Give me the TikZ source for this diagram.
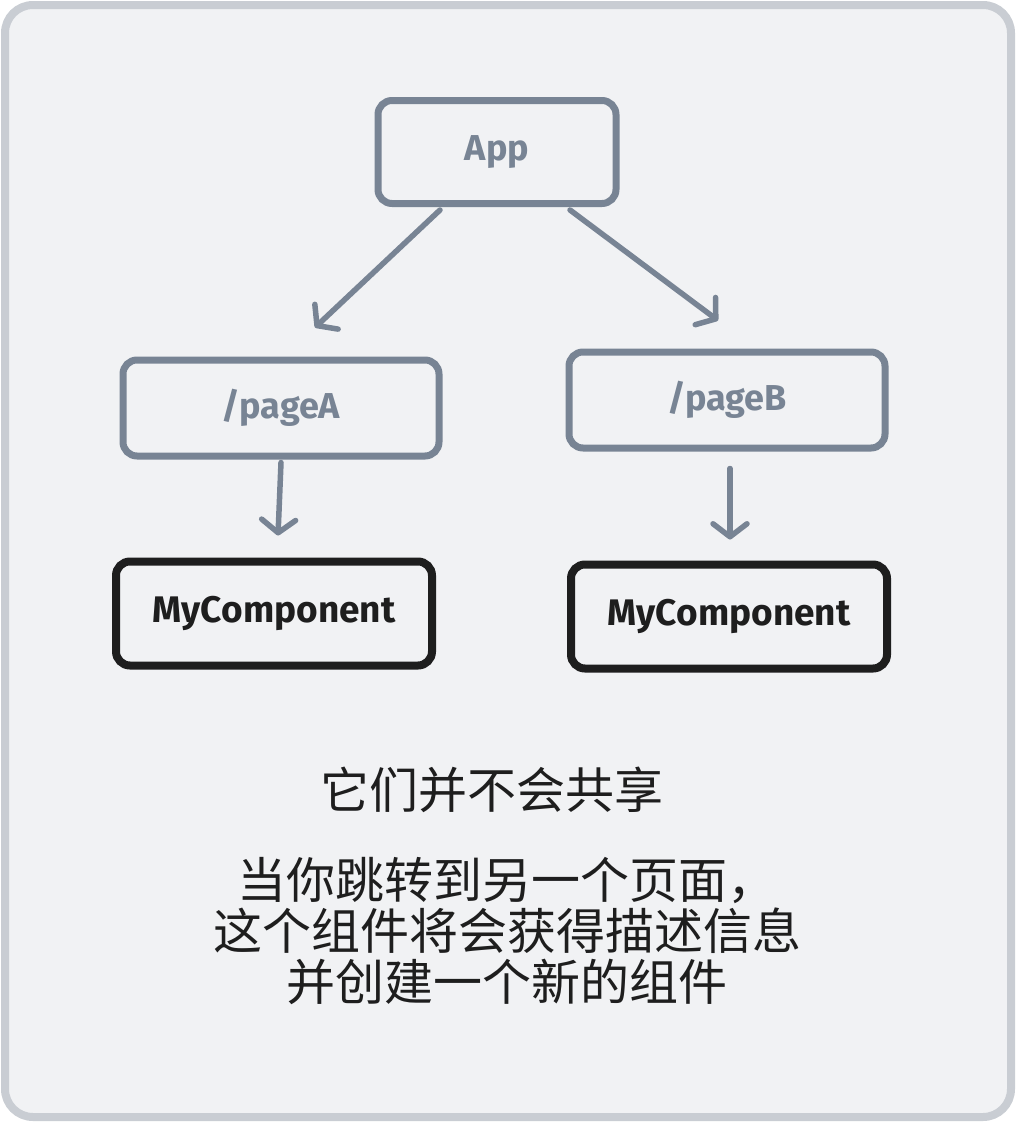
\documentclass[tikz,border=0pt]{standalone}
\usepackage{fontspec}
\setmainfont{Fira Sans}
\newfontfamily\cjk{Noto Sans CJK SC}
\usetikzlibrary{arrows.meta,positioning}
\definecolor{slate}{HTML}{788494}
\definecolor{ink}{HTML}{1E1E1E}
\definecolor{paper}{HTML}{F1F2F4}
\definecolor{frame}{HTML}{C9CDD3}

\begin{document}
\begin{tikzpicture}[x=1pt,y=-1pt,
    node distance=98pt,
    box/.style={draw=slate,line width=7pt,rounded corners=14pt,minimum width=316pt,
                minimum height=96pt,text=slate,font=\fontsize{36}{42}\selectfont\bfseries},
    comp/.style={box,draw=ink,text=ink,line width=8pt,minimum height=104pt,
                 font=\fontsize{37}{42}\selectfont\bfseries},
    arrow/.style={draw=slate,line width=5.5pt,line cap=round,
                  -{Straight Barb[length=13pt,width=34pt,round]}}]
    \useasboundingbox (0,0) rectangle (1016,1122);
    \draw[frame,fill=paper,line width=8pt,rounded corners=28pt] (5,5) rectangle (1011,1117);
    \node[box,minimum width=238pt,minimum height=103pt] (app) at (497,152) {App};
    \node[box] (pageA) at (281,408) {/pageA};
    \node[box] (pageB) at (727,400) {/pageB};
    \node[comp,below=of pageA.south,anchor=north,xshift=-7pt] (compA) {MyComponent};
    \node[comp,below=109pt of pageB.south,anchor=north,xshift=2pt] (compB) {MyComponent};
    \draw[arrow] ([xshift=-57pt,yshift=-3pt]app.south) -- ([xshift=34pt,yshift=29pt]pageA.north);
    \draw[arrow] ([xshift=73pt,yshift=-3pt]app.south) -- ([xshift=-9pt,yshift=28pt]pageB.north);
    \draw[arrow] ([yshift=-3pt]pageA.south) -- ([xshift=4pt,yshift=22pt]compA.north);
    \draw[arrow] ([xshift=3pt,yshift=-17pt]pageB.south) -- ([xshift=1pt,yshift=21pt]compB.north);
    \node[text=ink,font=\cjk\fontsize{49}{51}\selectfont] (share) at (492,790) {它们并不会共享};
    \node[text=ink,font=\cjk\fontsize{49}{51}\selectfont,align=center] (note) at (507,931)
         {当你跳转到另一个页面，\\这个组件将会获得描述信息\\并创建一个新的组件};
  \end{tikzpicture}
\end{document}
